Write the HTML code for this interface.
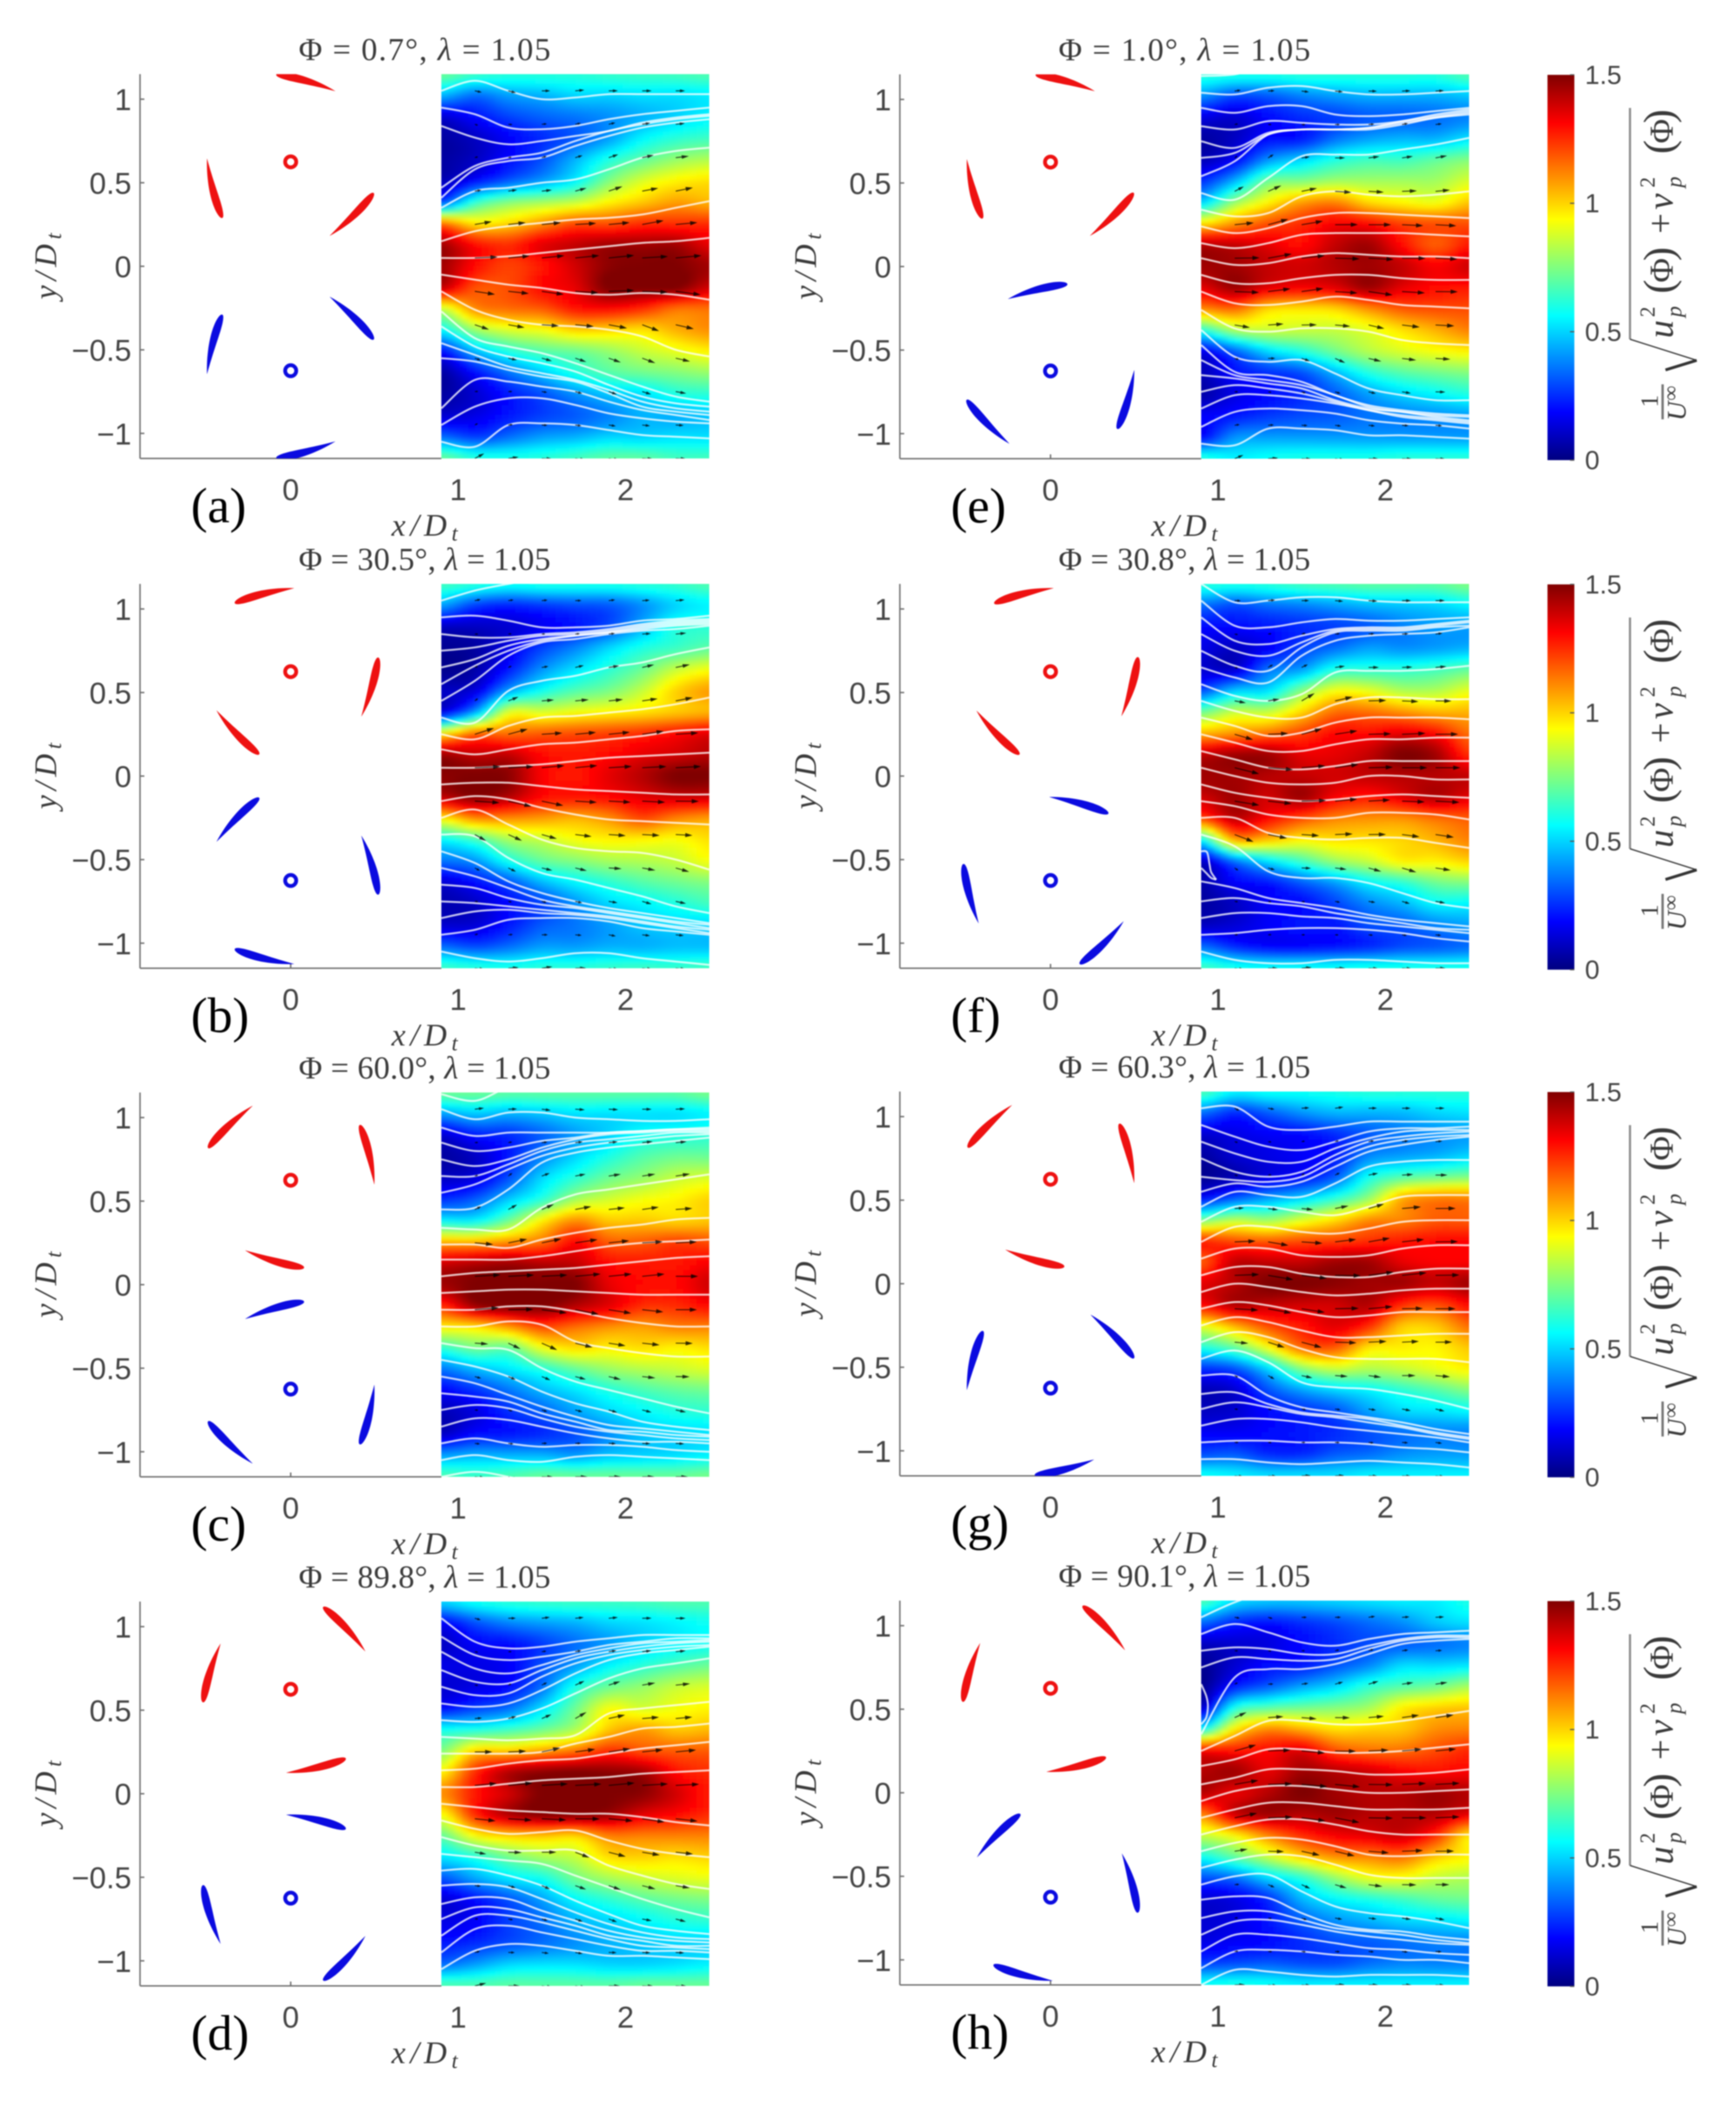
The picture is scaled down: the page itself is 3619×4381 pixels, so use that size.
<!DOCTYPE html>
<html lang="en">
<head>
<meta charset="utf-8">
<title>Phase-averaged wake velocity fields</title>
<style>
html,body{margin:0;padding:0;background:#fff}
svg{display:block;filter:blur(1.3px)}
text{font-family:"Liberation Serif",serif;fill:#3a3a3a}
.num{font-family:"Liberation Sans",sans-serif;fill:#444}
</style>
</head>
<body>
<svg id="figure" xmlns="http://www.w3.org/2000/svg" width="3619" height="4381" viewBox="0 0 3619 4381"><rect width="3619" height="4381" fill="#fff"/></svg>
<script>
// ---- values ----
const panelLetters = ['a','b','c','d','e','f','g','h'];
const phaseLabels = ['0.7','30.5','60.0','89.8','1.0','30.8','60.3','90.1'];
const phaseValues = [0.7,30.5,60.0,89.8,1.0,30.8,60.3,90.1];
const blueRotorPhase = [-98.7,-98.7,-98.7,-98.7,80,80,80,80];
const yTickValues = [1,0.5,0,-0.5,-1];
const yTickLabels = ['1','0.5','0','\u22120.5','\u22121'];
const xTickValues = [0,1,2];
const xTickLabels = ['0','1','2'];
const colorTickValues = [0,0.5,1,1.5];
const colorTickLabels = ['0','0.5','1','1.5'];
const fieldX = [0.9,1.1,1.3,1.5,1.7,1.9,2.1,2.3,2.5];
const quiverX = [1.1,1.3,1.5,1.7,1.9,2.1,2.3];
const quiverY = [1.05,0.85,0.65,0.45,0.25,0.05,-0.15,-0.35,-0.55,-0.75,-0.95,-1.15];

const heatA = [
[.72,.65,.62,.62,.62,.64,.65,.66,.68],
[.45,.35,.42,.45,.5,.5,.52,.52,.54],
[.12,.2,.28,.33,.36,.4,.45,.5,.55],
[.05,.1,.18,.25,.32,.42,.55,.62,.65],
[.05,.1,.2,.3,.45,.6,.7,.78,.82],
[.08,.2,.32,.42,.55,.75,.88,.95,.98],
[.3,.62,.75,.8,.85,.95,1.02,1.08,1.05],
[1.15,.98,1.0,1.1,1.2,1.2,1.25,1.25,1.25],
[1.45,1.3,1.25,1.35,1.4,1.45,1.45,1.45,1.35],
[1.45,1.3,1.22,1.28,1.38,1.48,1.5,1.5,1.45],
[1.4,1.2,1.2,1.3,1.35,1.5,1.5,1.5,1.38],
[.85,1.1,1.15,1.18,1.28,1.3,1.25,1.15,1.15],
[.55,.78,.88,.92,1.0,1.0,.98,1.05,1.1],
[.2,.45,.6,.68,.72,.78,.85,.9,.95],
[.05,.2,.35,.48,.6,.68,.72,.75,.78],
[.05,.12,.22,.3,.4,.48,.52,.6,.62],
[.12,.15,.22,.28,.32,.38,.45,.45,.48],
[.35,.28,.35,.42,.45,.5,.5,.52,.52],
[.72,.62,.6,.62,.66,.7,.7,.66,.66]];
const heatB = [
[.66,.62,.58,.6,.6,.6,.62,.64,.68],
[.42,.28,.24,.27,.3,.32,.4,.5,.55],
[.1,.1,.12,.17,.22,.3,.45,.6,.62],
[.03,.05,.15,.28,.38,.5,.6,.65,.7],
[.02,.06,.22,.4,.52,.62,.72,.85,.92],
[.1,.14,.42,.58,.68,.74,.85,1.0,1.08],
[.15,.42,.88,.88,.92,.95,.98,1.02,1.05],
[.95,1.15,1.15,1.18,1.2,1.22,1.25,1.3,1.35],
[1.45,1.4,1.4,1.3,1.28,1.3,1.35,1.38,1.42],
[1.48,1.5,1.48,1.32,1.28,1.35,1.42,1.5,1.5],
[1.4,1.48,1.42,1.3,1.28,1.3,1.35,1.38,1.38],
[.95,1.1,1.1,1.08,1.05,1.1,1.2,1.12,1.08],
[.55,.65,.8,.85,.92,.95,.95,.93,.98],
[.35,.4,.58,.7,.75,.8,.82,.85,.92],
[.12,.2,.3,.45,.55,.62,.68,.72,.75],
[.07,.1,.2,.28,.4,.5,.55,.6,.65],
[.12,.13,.22,.32,.36,.42,.48,.5,.5],
[.35,.3,.35,.42,.42,.45,.45,.47,.47],
[.65,.62,.6,.62,.62,.64,.65,.64,.66]];
const heatC = [
[.72,.72,.7,.7,.7,.7,.7,.7,.74],
[.42,.48,.45,.48,.52,.52,.52,.52,.55],
[.12,.22,.25,.33,.42,.5,.58,.6,.62],
[.05,.1,.22,.38,.5,.6,.68,.72,.72],
[.1,.14,.3,.5,.62,.72,.78,.85,.88],
[.25,.32,.48,.62,.8,.87,.92,.95,1.0],
[.55,.55,.72,.95,1.1,1.02,1.02,1.0,1.02],
[1.05,1.05,1.1,1.15,1.3,1.18,1.18,1.22,1.2],
[1.38,1.42,1.45,1.42,1.4,1.3,1.28,1.28,1.32],
[1.45,1.5,1.5,1.5,1.5,1.35,1.3,1.3,1.38],
[1.25,1.45,1.5,1.5,1.42,1.35,1.25,1.25,1.3],
[.95,.98,1.08,1.2,1.15,1.1,1.08,1.12,1.12],
[.62,.72,.7,.9,.98,.95,.98,.95,.98],
[.35,.45,.52,.6,.7,.78,.82,.85,.88],
[.18,.25,.35,.45,.52,.6,.66,.7,.72],
[.08,.14,.25,.32,.42,.5,.55,.6,.62],
[.1,.2,.22,.25,.3,.4,.48,.5,.52],
[.42,.45,.45,.45,.42,.48,.5,.52,.55],
[.68,.65,.68,.72,.72,.72,.72,.72,.74]];
const heatD = [
[.5,.58,.62,.64,.65,.65,.66,.68,.68],
[.18,.3,.38,.42,.45,.5,.52,.55,.58],
[.1,.18,.2,.27,.35,.42,.5,.55,.58],
[.15,.15,.18,.3,.42,.55,.62,.68,.72],
[.12,.15,.2,.35,.6,.72,.78,.85,.88],
[.2,.28,.35,.52,.72,.92,.88,.92,.95],
[.58,.6,.65,.72,.82,1.02,1.08,1.02,1.04],
[.75,1.0,1.02,1.08,1.15,1.25,1.2,1.18,1.18],
[.95,1.25,1.42,1.48,1.5,1.48,1.45,1.3,1.25],
[1.1,1.28,1.38,1.5,1.5,1.5,1.48,1.38,1.28],
[.92,1.25,1.42,1.48,1.48,1.45,1.35,1.3,1.25],
[.7,.92,1.0,1.02,1.0,1.12,1.12,1.12,1.12],
[.52,.6,.72,.8,.85,.98,1.0,.98,1.0],
[.3,.42,.52,.58,.72,.8,.85,.88,.9],
[.12,.2,.3,.42,.55,.62,.68,.72,.74],
[.15,.18,.28,.35,.45,.5,.55,.6,.62],
[.22,.25,.3,.35,.4,.45,.48,.5,.5],
[.35,.42,.5,.52,.52,.5,.5,.52,.55],
[.68,.68,.7,.7,.7,.7,.72,.72,.72]];
const heatE = [
[.62,.6,.6,.62,.62,.62,.62,.62,.68],
[.4,.3,.32,.38,.42,.45,.45,.45,.48],
[.15,.12,.2,.25,.28,.32,.33,.35,.38],
[.05,.1,.2,.22,.35,.42,.45,.45,.52],
[.08,.18,.4,.5,.6,.65,.65,.7,.75],
[.25,.45,.72,.75,.8,.8,.8,.8,.88],
[.5,.78,.95,1.08,1.12,1.0,.95,.92,1.02],
[.98,1.1,1.2,1.25,1.32,1.3,1.22,1.2,1.2],
[1.42,1.4,1.35,1.3,1.4,1.45,1.3,1.18,1.28],
[1.45,1.45,1.4,1.38,1.42,1.45,1.4,1.32,1.38],
[1.35,1.45,1.35,1.32,1.35,1.45,1.35,1.3,1.28],
[1.1,1.15,1.0,.98,1.0,1.1,1.18,1.2,1.2],
[.6,.8,.85,.85,.85,.9,.98,1.05,1.12],
[.15,.32,.5,.6,.72,.82,.88,.92,.95],
[.08,.2,.25,.3,.45,.6,.68,.72,.75],
[.06,.15,.2,.25,.32,.42,.5,.55,.6],
[.18,.22,.27,.3,.32,.36,.38,.4,.42],
[.2,.4,.42,.42,.42,.42,.42,.42,.42],
[.62,.55,.58,.6,.6,.6,.62,.62,.62]];
const heatF = [
[.62,.6,.62,.66,.68,.7,.7,.7,.75],
[.35,.3,.35,.38,.42,.46,.48,.5,.55],
[.2,.2,.22,.25,.28,.32,.38,.42,.42],
[.15,.1,.18,.28,.35,.42,.4,.42,.45],
[.12,.12,.35,.42,.6,.62,.62,.65,.7],
[.3,.48,.52,.75,.92,.9,.82,.82,.9],
[.72,.85,.85,1.0,1.15,1.15,1.1,1.05,1.05],
[1.05,1.1,1.15,1.22,1.3,1.3,1.35,1.3,1.15],
[1.4,1.45,1.45,1.35,1.35,1.4,1.5,1.45,1.25],
[1.45,1.45,1.42,1.4,1.38,1.4,1.42,1.42,1.4],
[1.38,1.45,1.38,1.45,1.32,1.28,1.35,1.42,1.35],
[1.2,1.4,1.3,1.2,1.12,1.1,1.1,1.15,1.18],
[.55,1.05,1.02,.95,.98,.98,1.0,1.05,1.12],
[.1,.35,.52,.65,.78,.85,.95,.95,1.0],
[.06,.18,.22,.32,.42,.55,.62,.72,.75],
[.05,.1,.18,.2,.28,.38,.45,.55,.55],
[.1,.13,.18,.22,.22,.3,.32,.38,.42],
[.35,.25,.2,.2,.22,.25,.3,.32,.35],
[.66,.6,.58,.58,.58,.6,.6,.6,.6]];
const heatG = [
[.68,.55,.58,.58,.6,.62,.62,.62,.62],
[.35,.25,.32,.4,.45,.45,.46,.5,.52],
[.12,.15,.18,.2,.25,.32,.37,.4,.42],
[.05,.12,.15,.18,.22,.38,.42,.45,.5],
[.03,.08,.15,.2,.32,.58,.68,.72,.75],
[.2,.32,.42,.5,.62,.78,1.05,1.12,1.12],
[.72,.82,.78,.88,.98,1.1,1.12,1.18,1.18],
[1.25,1.2,1.18,1.2,1.22,1.25,1.28,1.3,1.3],
[1.18,1.4,1.4,1.4,1.45,1.45,1.35,1.32,1.32],
[1.35,1.42,1.5,1.5,1.48,1.45,1.45,1.4,1.45],
[1.3,1.42,1.4,1.38,1.38,1.42,1.25,1.2,1.3],
[.9,1.05,1.2,1.28,1.35,1.25,1.02,1.02,1.15],
[.6,.7,.92,1.15,1.18,.98,.96,.95,1.02],
[.25,.3,.5,.75,.85,.82,.85,.9,.95],
[.08,.12,.3,.42,.5,.55,.62,.68,.75],
[.1,.12,.2,.25,.3,.42,.5,.52,.55],
[.18,.18,.2,.22,.25,.3,.35,.38,.38],
[.3,.32,.25,.25,.32,.35,.4,.42,.42],
[.58,.55,.52,.52,.52,.55,.55,.55,.55]];
const heatH = [
[.68,.52,.48,.48,.5,.52,.54,.54,.6],
[.35,.25,.22,.26,.3,.35,.4,.48,.52],
[.1,.12,.14,.2,.25,.3,.32,.35,.38],
[.03,.12,.2,.22,.3,.38,.5,.5,.52],
[.02,.22,.32,.42,.5,.62,.68,.72,.8],
[.1,.58,.68,.72,.75,.8,.95,1.0,1.02],
[.55,.95,1.1,1.05,.98,1.0,1.02,1.1,1.12],
[1.3,1.28,1.3,1.35,1.2,1.15,1.15,1.2,1.25],
[1.42,1.45,1.35,1.45,1.42,1.38,1.32,1.3,1.32],
[1.42,1.35,1.42,1.5,1.45,1.42,1.42,1.45,1.42],
[1.12,1.38,1.45,1.42,1.45,1.42,1.42,1.42,1.35],
[.85,.95,1.12,1.25,1.32,1.35,1.38,1.25,.98],
[.58,.7,.85,1.0,1.1,1.12,1.15,1.02,.95],
[.3,.35,.5,.62,.78,.9,.92,.85,.82],
[.12,.15,.25,.45,.55,.6,.65,.7,.72],
[.12,.15,.22,.32,.4,.45,.5,.52,.55],
[.15,.18,.2,.25,.3,.32,.35,.38,.38],
[.28,.3,.32,.3,.3,.35,.38,.38,.38],
[.58,.6,.58,.55,.55,.55,.55,.55,.55]];

const streamA = [
[1.05,1.11,1.05,1.0,1.01,1.03,1.03,1.03,1.03],
[.95,.91,.83,.82,.84,.88,.91,.93,.95],
[.84,.77,.73,.75,.78,.81,.86,.89,.91],
[.47,.6,.65,.68,.75,.81,.85,.88,.9],
[.41,.58,.63,.65,.72,.78,.83,.86,.88],
[.35,.45,.47,.5,.52,.58,.65,.69,.71],
[.15,.21,.24,.26,.28,.29,.31,.35,.39],
[.05,.05,.06,.08,.1,.12,.14,.15,.17],
[-.05,-.08,-.11,-.13,-.16,-.17,-.16,-.17,-.2],
[-.15,-.26,-.32,-.35,-.36,-.38,-.42,-.5,-.54],
[-.27,-.43,-.48,-.52,-.58,-.65,-.72,-.78,-.81],
[-.36,-.48,-.54,-.58,-.63,-.71,-.78,-.82,-.84],
[-.46,-.53,-.6,-.64,-.68,-.74,-.81,-.85,-.87],
[-.55,-.57,-.62,-.66,-.69,-.76,-.84,-.87,-.89],
[-.85,-.68,-.69,-.72,-.75,-.81,-.86,-.89,-.92],
[-.95,-.84,-.79,-.79,-.83,-.88,-.91,-.93,-.94],
[-1.05,-1.08,-.95,-.94,-.95,-.98,-1.01,-1.02,-1.03]];
const streamB = [
[1.05,1.11,1.15,1.18,1.2,1.2,1.2,1.2,1.2],
[.95,.96,.93,.89,.89,.9,.93,.94,.96],
[.85,.83,.83,.85,.86,.88,.91,.93,.94],
[.75,.77,.81,.84,.85,.87,.9,.92,.93],
[.65,.7,.78,.82,.84,.86,.89,.91,.92],
[.55,.66,.75,.81,.84,.86,.88,.9,.91],
[.45,.57,.72,.8,.82,.85,.87,.88,.9],
[.35,.32,.51,.57,.6,.65,.68,.73,.77],
[.25,.22,.3,.35,.36,.38,.4,.43,.47],
[.16,.13,.16,.19,.2,.22,.24,.27,.28],
[.05,.05,.06,.07,.09,.11,.12,.13,.14],
[-.05,-.04,-.04,-.06,-.08,-.09,-.1,-.11,-.11],
[-.15,-.12,-.14,-.19,-.23,-.26,-.27,-.28,-.29],
[-.25,-.2,-.29,-.38,-.43,-.45,-.46,-.5,-.56],
[-.35,-.36,-.49,-.58,-.62,-.67,-.72,-.78,-.82],
[-.45,-.52,-.63,-.7,-.75,-.79,-.82,-.85,-.88],
[-.55,-.6,-.67,-.74,-.78,-.81,-.84,-.87,-.89],
[-.65,-.67,-.73,-.77,-.79,-.82,-.85,-.88,-.91],
[-.75,-.76,-.78,-.8,-.82,-.84,-.87,-.9,-.92],
[-.85,-.81,-.8,-.82,-.83,-.85,-.88,-.91,-.94],
[-.95,-.92,-.86,-.85,-.85,-.87,-.91,-.93,-.95],
[-1.05,-1.09,-1.11,-1.09,-1.06,-1.06,-1.09,-1.11,-1.13]];
const streamC = [
[1.14,1.1,1.18,1.2,1.2,1.2,1.2,1.2,1.2],
[1.05,.99,1.03,1.03,1.0,.99,.98,.98,.99],
[.94,.89,.91,.91,.91,.91,.92,.93,.94],
[.85,.8,.82,.86,.88,.91,.92,.93,.93],
[.75,.71,.75,.82,.87,.9,.91,.92,.92],
[.65,.65,.72,.8,.85,.87,.89,.91,.91],
[.55,.6,.69,.77,.82,.85,.87,.89,.9],
[.45,.46,.57,.73,.79,.82,.84,.86,.88],
[.34,.33,.33,.46,.54,.57,.6,.63,.66],
[.24,.24,.22,.27,.31,.34,.36,.39,.4],
[.15,.15,.15,.17,.2,.23,.25,.26,.27],
[.05,.07,.08,.09,.1,.12,.14,.16,.17],
[-.05,-.04,-.03,-.03,-.04,-.05,-.06,-.06,-.06],
[-.15,-.15,-.13,-.13,-.16,-.2,-.23,-.25,-.25],
[-.25,-.25,-.22,-.24,-.34,-.38,-.41,-.43,-.43],
[-.35,-.38,-.39,-.5,-.58,-.63,-.68,-.73,-.77],
[-.45,-.49,-.55,-.64,-.71,-.76,-.82,-.85,-.87],
[-.55,-.59,-.66,-.73,-.79,-.84,-.86,-.88,-.9],
[-.65,-.67,-.7,-.77,-.82,-.87,-.88,-.9,-.91],
[-.75,-.72,-.74,-.8,-.85,-.88,-.9,-.92,-.93],
[-.85,-.8,-.81,-.85,-.89,-.92,-.94,-.94,-.95],
[-.95,-.92,-.95,-.97,-.96,-.96,-.97,-.99,-1.0],
[-1.05,-1.02,-1.05,-1.06,-1.03,-1.02,-1.03,-1.04,-1.05],
[-1.15,-1.12,-1.15,-1.2,-1.2,-1.2,-1.2,-1.2,-1.2]];
const streamD = [
[1.05,.91,.87,.88,.91,.93,.95,.95,.95],
[.94,.83,.8,.82,.85,.89,.91,.93,.93],
[.85,.75,.72,.77,.83,.87,.9,.91,.92],
[.74,.67,.66,.74,.81,.85,.88,.9,.91],
[.64,.59,.6,.7,.78,.83,.86,.88,.89],
[.54,.52,.54,.62,.72,.8,.84,.86,.88],
[.44,.43,.45,.51,.6,.69,.75,.78,.81],
[.34,.33,.32,.33,.35,.48,.51,.53,.55],
[.24,.24,.24,.25,.3,.34,.39,.4,.42],
[.14,.15,.18,.2,.21,.24,.27,.29,.31],
[.04,.04,.06,.08,.09,.1,.12,.13,.14],
[-.06,-.08,-.1,-.11,-.12,-.12,-.14,-.17,-.19],
[-.16,-.21,-.24,-.23,-.22,-.28,-.33,-.36,-.38],
[-.26,-.31,-.34,-.34,-.34,-.43,-.49,-.54,-.57],
[-.36,-.38,-.4,-.42,-.49,-.56,-.63,-.69,-.74],
[-.46,-.45,-.49,-.55,-.64,-.72,-.79,-.82,-.84],
[-.55,-.54,-.56,-.63,-.71,-.78,-.83,-.86,-.87],
[-.66,-.62,-.63,-.7,-.76,-.82,-.86,-.88,-.89],
[-.75,-.68,-.69,-.74,-.79,-.85,-.88,-.91,-.91],
[-.85,-.73,-.73,-.77,-.82,-.87,-.91,-.92,-.93],
[-.95,-.81,-.79,-.83,-.87,-.91,-.94,-.94,-.95],
[-1.05,-.94,-.9,-.91,-.94,-.97,-.97,-.98,-.99]];
const streamE = [
[1.14,1.15,1.2,1.2,1.2,1.2,1.2,1.2,1.2],
[1.04,1.03,1.07,1.08,1.05,1.03,1.03,1.04,1.05],
[.95,.92,.96,.96,.91,.9,.91,.93,.95],
[.84,.82,.87,.86,.85,.85,.87,.91,.94],
[.75,.71,.8,.82,.82,.83,.87,.9,.93],
[.65,.68,.79,.82,.82,.83,.86,.89,.92],
[.54,.63,.79,.82,.82,.82,.85,.89,.91],
[.44,.4,.53,.66,.67,.67,.7,.73,.77],
[.34,.3,.32,.42,.45,.43,.42,.43,.45],
[.24,.2,.23,.29,.32,.32,.31,.3,.29],
[.14,.11,.14,.19,.2,.2,.2,.19,.18],
[.05,.01,.02,.06,.08,.07,.06,.06,.05],
[-.05,-.1,-.1,-.07,-.05,-.05,-.07,-.08,-.08],
[-.15,-.22,-.23,-.21,-.18,-.2,-.23,-.24,-.25],
[-.26,-.37,-.39,-.37,-.37,-.39,-.44,-.46,-.47],
[-.38,-.54,-.57,-.56,-.64,-.73,-.77,-.8,-.8],
[-.47,-.63,-.65,-.69,-.77,-.83,-.86,-.88,-.89],
[-.56,-.65,-.68,-.71,-.77,-.84,-.87,-.89,-.9],
[-.65,-.67,-.7,-.73,-.8,-.85,-.87,-.9,-.92],
[-.75,-.71,-.73,-.76,-.81,-.86,-.89,-.91,-.93],
[-.85,-.77,-.77,-.79,-.82,-.86,-.9,-.92,-.94],
[-.96,-.87,-.85,-.86,-.88,-.92,-.94,-.95,-.97],
[-1.06,-1.07,-.97,-.97,-.98,-1.01,-1.01,-1.02,-1.03]];
const streamF = [
[1.15,1.04,1.05,1.07,1.07,1.05,1.04,1.04,1.04],
[1.05,.9,.89,.92,.94,.93,.93,.94,.95],
[.95,.81,.79,.84,.88,.89,.89,.91,.93],
[.85,.75,.72,.8,.87,.88,.88,.9,.92],
[.75,.66,.63,.77,.86,.87,.87,.89,.9],
[.65,.59,.56,.72,.81,.84,.85,.86,.89],
[.55,.48,.45,.49,.62,.63,.63,.64,.66],
[.45,.39,.35,.35,.43,.47,.47,.46,.46],
[.35,.3,.24,.26,.32,.35,.35,.35,.34],
[.25,.2,.15,.15,.19,.22,.22,.23,.23],
[.15,.1,.05,.04,.06,.09,.09,.09,.09],
[.05,0,-.04,-.05,-.04,0,0,-.02,-.02],
[-.05,-.1,-.13,-.15,-.14,-.12,-.11,-.12,-.13],
[-.15,-.18,-.23,-.25,-.25,-.22,-.22,-.23,-.26],
[-.25,-.25,-.34,-.37,-.38,-.37,-.37,-.4,-.43],
[-.35,-.42,-.57,-.61,-.61,-.64,-.7,-.76,-.79],
[-.63,-.67,-.73,-.76,-.79,-.83,-.86,-.88,-.9],
[-.75,-.73,-.76,-.78,-.82,-.85,-.88,-.91,-.92],
[-.85,-.82,-.82,-.84,-.85,-.88,-.9,-.92,-.94],
[-.95,-.94,-.92,-.91,-.91,-.92,-.94,-.97,-.99],
[-1.05,-1.1,-1.12,-1.12,-1.1,-1.1,-1.11,-1.12,-1.12]];
const streamG = [
[1.05,1.06,.94,.92,.94,.97,.97,.97,.97],
[.95,.88,.82,.8,.85,.91,.93,.93,.94],
[.85,.78,.73,.73,.81,.87,.91,.92,.92],
[.75,.67,.64,.67,.77,.85,.88,.9,.91],
[.64,.62,.61,.64,.74,.82,.86,.88,.89],
[.55,.6,.58,.61,.7,.79,.83,.86,.88],
[.46,.55,.53,.52,.6,.7,.73,.74,.74],
[.37,.46,.46,.43,.41,.46,.52,.53,.53],
[.25,.34,.34,.31,.3,.33,.37,.38,.38],
[.15,.21,.21,.17,.16,.17,.21,.23,.23],
[.05,.1,.1,.06,.04,.04,.07,.09,.09],
[-.05,0,-.02,-.05,-.07,-.06,-.04,-.03,-.03],
[-.15,-.11,-.13,-.17,-.2,-.19,-.17,-.17,-.17],
[-.25,-.2,-.23,-.28,-.32,-.32,-.31,-.3,-.3],
[-.35,-.29,-.32,-.39,-.44,-.45,-.45,-.45,-.47],
[-.45,-.4,-.47,-.59,-.62,-.63,-.66,-.7,-.75],
[-.55,-.55,-.67,-.74,-.77,-.8,-.83,-.87,-.9],
[-.66,-.65,-.72,-.77,-.79,-.81,-.85,-.89,-.92],
[-.75,-.71,-.74,-.78,-.8,-.83,-.86,-.9,-.93],
[-.85,-.81,-.81,-.83,-.86,-.88,-.9,-.92,-.95],
[-.95,-.94,-.94,-.95,-.95,-.96,-.98,-.99,-1.01],
[-1.05,-1.05,-1.07,-1.08,-1.07,-1.06,-1.07,-1.08,-1.1]];
const streamH = [
[1.05,1.14,1.2,1.2,1.2,1.2,1.2,1.2,1.2],
[.95,1.01,.96,.9,.88,.92,.95,.96,.97],
[.85,.87,.86,.83,.83,.88,.92,.94,.94],
[.75,.81,.8,.79,.8,.86,.91,.93,.93],
[.35,.69,.74,.74,.77,.83,.89,.91,.92],
[.25,.34,.43,.43,.41,.41,.43,.46,.49],
[.16,.2,.26,.26,.24,.24,.25,.27,.29],
[.05,.09,.14,.14,.13,.11,.11,.12,.14],
[-.05,.01,.04,.04,.02,0,0,.01,.02],
[-.15,-.1,-.06,-.06,-.08,-.1,-.1,-.1,-.09],
[-.25,-.2,-.16,-.16,-.19,-.23,-.25,-.25,-.25],
[-.35,-.3,-.27,-.28,-.32,-.37,-.38,-.37,-.37],
[-.45,-.4,-.37,-.38,-.43,-.49,-.51,-.51,-.51],
[-.55,-.5,-.49,-.59,-.68,-.72,-.74,-.77,-.81],
[-.64,-.62,-.63,-.72,-.79,-.82,-.83,-.86,-.88],
[-.75,-.71,-.71,-.76,-.81,-.83,-.85,-.88,-.9],
[-.85,-.77,-.76,-.79,-.83,-.86,-.88,-.9,-.91],
[-.95,-.85,-.85,-.87,-.9,-.93,-.94,-.96,-.97],
[-1.05,-.95,-.94,-.95,-.97,-.98,-1.0,-1.0,-1.02],
[-1.15,-1.06,-1.07,-1.09,-1.1,-1.09,-1.09,-1.09,-1.1]];
// short recirculation traces near the rotor-side edge: x values then y values
const eddyFx = [.9,.935,.95,.96,.99];
const eddyFy = [-.45,-.456,-.53,-.576,-.62];
const eddyF2x = [.9,.93,.96,.99];
const eddyF2y = [-.55,-.58,-.61,-.62];
const eddyHx = [.9,.93,.94,.93,.9];
const eddyHy = [.65,.58,.52,.45,.41];

const heatFields = [heatA,heatB,heatC,heatD,heatE,heatF,heatG,heatH];
const streamFields = [streamA,streamB,streamC,streamD,streamE,streamF,streamG,streamH];
const eddyFields = [[],[],[],[],[],[[eddyFx,eddyFy],[eddyF2x,eddyF2y]],[],[[eddyHx,eddyHy]]];

// ---- layout ----
const NS = 'http://www.w3.org/2000/svg';
const svg = document.getElementById('figure');
const plotTops = [154.5,1217,2277,3338,155,1217,2275,3336];
const colZero = [606,2190];
const UNIT_X = 349, PLOT_H = 801, Y_SPAN = 2.3;
const UNIT_Y = PLOT_H / Y_SPAN;
const X_MIN = -0.9, X_FIELD0 = 0.9, X_MAX = 2.5, Y_MAX = 1.15;
const ROTOR_Y = 0.625, LEAD_R = 0.53, TRAIL_R = 0.5, CHORD_SWEEP = 41.5;

function make(tag, attrs, parent) {
  const e = document.createElementNS(NS, tag);
  for (const k in attrs) e.setAttribute(k, attrs[k]);
  parent.appendChild(e);
  return e;
}
function jet(v) {
  const t = Math.max(0, Math.min(1, v / 1.5));
  const ch = c => Math.round(255 * Math.max(0, Math.min(1, 1.5 - Math.abs(4 * t - c))));
  return 'rgb(' + ch(3) + ',' + ch(2) + ',' + ch(1) + ')';
}
function cubic(a, b, c, d, s) {
  return b + 0.5 * s * (c - a + s * (2 * a - 5 * b + 4 * c - d + s * (3 * (b - c) + d - a)));
}
function heatAt(grid, x, y) {
  const nr = grid.length, nc = grid[0].length;
  const fu = Math.max(0, Math.min(nc - 1.0001, (x - fieldX[0]) / (fieldX[1] - fieldX[0])));
  const fv = Math.max(0, Math.min(nr - 1.0001, (Y_MAX - y) / (Y_SPAN / (nr - 1))));
  const iu = Math.floor(fu), iv = Math.floor(fv), su = fu - iu, sv = fv - iv;
  const rowsOut = [];
  for (let r = iv - 1; r <= iv + 2; r++) {
    const row = grid[Math.max(0, Math.min(nr - 1, r))];
    const g = k => row[Math.max(0, Math.min(nc - 1, k))];
    rowsOut.push(cubic(g(iu - 1), g(iu), g(iu + 1), g(iu + 2), su));
  }
  return cubic(rowsOut[0], rowsOut[1], rowsOut[2], rowsOut[3], sv);
}
function lineY(line, x) {
  const f = Math.max(0, Math.min(line.length - 1.0001, (x - fieldX[0]) / (fieldX[1] - fieldX[0])));
  const i = Math.floor(f);
  return line[i] + (line[i + 1] - line[i]) * (f - i);
}
function smoothPath(pts) {
  let d = 'M' + pts[0][0].toFixed(1) + ' ' + pts[0][1].toFixed(1);
  for (let i = 0; i < pts.length - 1; i++) {
    const a = pts[Math.max(0, i - 1)], b = pts[i], c = pts[i + 1], e = pts[Math.min(pts.length - 1, i + 2)];
    d += 'C' + (b[0] + (c[0] - a[0]) / 6).toFixed(1) + ' ' + (b[1] + (c[1] - a[1]) / 6).toFixed(1) + ' ' +
         (c[0] - (e[0] - b[0]) / 6).toFixed(1) + ' ' + (c[1] - (e[1] - b[1]) / 6).toFixed(1) + ' ' +
         c[0].toFixed(1) + ' ' + c[1].toFixed(1);
  }
  return d;
}

// shared defs
const defs = make('defs', {}, svg);
const soft = make('filter', {id:'soft', x:'-5%', y:'-5%', width:'110%', height:'110%'}, defs);
make('feGaussianBlur', {stdDeviation:'5 4'}, soft);
const grad = make('linearGradient', {id:'jetGrad', x1:'0', y1:'1', x2:'0', y2:'0'}, defs);
for (let i = 0; i <= 64; i++) {
  make('stop', {offset: i / 64, 'stop-color': jet(1.5 * i / 64)}, grad);
}

panelLetters.forEach((letter, p) => {
  const col = p < 4 ? 0 : 1;
  const top = plotTops[p];
  const x0 = colZero[col];
  const yMid = top + PLOT_H / 2;
  const xS = x => x0 + x * UNIT_X;
  const yS = y => yMid - y * UNIT_Y;
  const panel = make('g', {}, svg);
  
  

  const clip = make('clipPath', {id:'field-clip-' + letter}, defs);
  make('rect', {x: xS(X_FIELD0), y: top, width: (X_MAX - X_FIELD0) * UNIT_X, height: PLOT_H}, clip);
  const clipAll = make('clipPath', {id:'axes-clip-' + letter}, defs);
  make('rect', {x: xS(X_MIN), y: top, width: (X_MAX - X_MIN) * UNIT_X, height: PLOT_H}, clipAll);

  // axes
  const leftSpine = make('line', {x1: xS(X_MIN), x2: xS(X_MIN), y1: top, y2: top + PLOT_H, stroke:'#707070', 'stroke-width':3}, panel);
  
  
  const bottomSpine = make('line', {x1: xS(X_MIN), x2: xS(X_FIELD0), y1: top + PLOT_H, y2: top + PLOT_H, stroke:'#707070', 'stroke-width':3}, panel);
  
  

  yTickValues.forEach((v, i) => {
    const tick = make('line', {x1: xS(X_MIN), x2: xS(X_MIN) + 9, y1: yS(v), y2: yS(v), stroke:'#707070', 'stroke-width':3}, panel);
    
    
    const lab = make('text', {x: xS(X_MIN) - 18, y: yS(v) + 23, 'text-anchor':'end', 'font-size':63, class:'num'}, panel);
    lab.textContent = yTickLabels[i];
    
    
  });
  xTickValues.forEach((v, i) => {
    const tick = make('line', {x1: xS(v), x2: xS(v), y1: top + PLOT_H, y2: top + PLOT_H - 9, stroke:'#707070', 'stroke-width':3}, panel);
    
    
    const lab = make('text', {x: xS(v), y: top + 888, 'text-anchor':'middle', 'font-size':63, class:'num'}, panel);
    lab.textContent = xTickLabels[i];
    
    
  });

  // title
  const cx = xS((X_MIN + X_MAX) / 2);
  const title = make('text', {x: cx, y: top - 29, 'text-anchor':'middle', 'font-size':67, textLength:525, lengthAdjust:'spacing'}, panel);
  
  
  title.appendChild(document.createTextNode('\u03A6 = ' + phaseLabels[p] + '\u00B0, '));
  const lam = make('tspan', {'font-style':'italic'}, title);
  lam.textContent = '\u03BB';
  title.appendChild(document.createTextNode(' = 1.05'));

  // x label
  const xl = make('text', {x: cx, y: top + 962, 'text-anchor':'middle', 'font-size':66, 'font-style':'italic', textLength:138, lengthAdjust:'spacing'}, panel);
  
  
  xl.appendChild(document.createTextNode('x/D'));
  const xs = make('tspan', {'font-size':46, dy:10}, xl);
  xs.textContent = 't';

  // y label
  const yx = xS(X_MIN) - 175, yy = yMid;
  const yl = make('text', {x: yx, y: yy, 'text-anchor':'middle', 'font-size':66, 'font-style':'italic', textLength:138, lengthAdjust:'spacing', transform:'rotate(-90 ' + yx + ' ' + yy + ')'}, panel);
  
  
  yl.appendChild(document.createTextNode('y/D'));
  const ys = make('tspan', {'font-size':46, dy:10}, yl);
  ys.textContent = 't';

  // panel letter
  const pl = make('text', {x: xS(0) - 208, y: top + 934, 'font-size':104}, panel);
  pl.textContent = '(' + letter + ')';
  pl.style.fill = '#000';
  
  

  // turbine rotors and blades
  const rotors = make('g', {'clip-path':'url(#axes-clip-' + letter + ')'}, panel);
  
  
  [{c: ROTOR_Y, color:'#ee1111', lead: 98.7 + phaseValues[p], sweep: -CHORD_SWEEP, n:'red'},
   {c: -ROTOR_Y, color:'#0b0be0', lead: blueRotorPhase[p] - phaseValues[p], sweep: CHORD_SWEEP, n:'blue'}].forEach(r => {
    const hub = make('circle', {cx: xS(0), cy: yS(r.c), r: 11.5, fill:'none', stroke: r.color, 'stroke-width':8}, rotors);
    
    
    for (let b = 0; b < 3; b++) {
      const aL = (r.lead + 120 * b) * Math.PI / 180;
      const aT = (r.lead + 120 * b + r.sweep) * Math.PI / 180;
      const lx = LEAD_R * Math.cos(aL), ly = r.c + LEAD_R * Math.sin(aL);
      const tx = TRAIL_R * Math.cos(aT), ty = r.c + TRAIL_R * Math.sin(aT);
      const dx = tx - lx, dy = ty - ly, c = Math.hypot(dx, dy);
      let nx = -dy / c, ny = dx / c;
      const mx = (lx + tx) / 2, my = (ly + ty) / 2 - r.c;
      if (nx * mx + ny * my < 0) { nx = -nx; ny = -ny; }
      const upper = [], lower = [];
      for (let k = 0; k <= 24; k++) {
        const s = Math.pow(k / 24, 1.6);
        const half = 5 * 0.13 * c * (0.2969 * Math.sqrt(s) - 0.126 * s - 0.3516 * s * s + 0.2843 * s * s * s - 0.1015 * s * s * s * s);
        const camber = 0.012 * 4 * s * (1 - s);
        const bx = lx + dx * s + nx * camber, by = ly + dy * s + ny * camber;
        upper.push(xS(bx + nx * half).toFixed(1) + ' ' + yS(by + ny * half).toFixed(1));
        lower.unshift(xS(bx - nx * half).toFixed(1) + ' ' + yS(by - ny * half).toFixed(1));
      }
      const blade = make('path', {d: 'M' + upper.concat(lower).join('L') + 'Z', fill: r.color}, rotors);
      
      
    }
  });

  // heat field
  const grid = heatFields[p];
  const fieldClip = make('g', {'clip-path':'url(#field-clip-' + letter + ')'}, panel);
  
  
  const cells = make('g', {filter:'url(#soft)', 'shape-rendering':'crispEdges'}, fieldClip);
  const stepX = 14, stepY = 10;
  const left = xS(X_FIELD0), right = xS(X_MAX);
  for (let py = top - 20; py < top + PLOT_H + 20; py += stepY) {
    for (let px = left - 28; px < right + 28; px += stepX) {
      const v = heatAt(grid, (px + stepX / 2 - x0) / UNIT_X, (yMid - py - stepY / 2) / UNIT_Y);
      const cell = make('rect', {x: px, y: py, width: stepX + 0.5, height: stepY + 0.5, fill: jet(v)}, cells);
      
      
    }
  }

  // streamlines
  const lines = streamFields[p];
  const streamGroup = make('g', {fill:'none', stroke:'#fff', 'stroke-width':4, 'stroke-opacity':0.78, 'clip-path':'url(#field-clip-' + letter + ')'}, panel);
  
  
  lines.forEach(line => {
    const pts = line.map((y, i) => [xS(fieldX[i]), yS(y)]);
    const path = make('path', {d: smoothPath(pts)}, streamGroup);
    
    
  });
  eddyFields[p].forEach(trace => {
    const pts = trace[0].map((x, i) => [xS(x), yS(trace[1][i])]);
    const path = make('path', {d: smoothPath(pts)}, streamGroup);
    
    
  });

  // quiver arrows: length follows the local field value, direction the nearest streamline
  const arrows = make('g', {fill:'#000', opacity:0.82, 'clip-path':'url(#field-clip-' + letter + ')'}, panel);
  
  
  quiverY.forEach(qy => {
    quiverX.forEach(qx => {
      const v = heatAt(grid, qx, qy);
      let best = null, bestD = 1e9;
      lines.forEach(line => {
        const dd = Math.abs(lineY(line, qx + 0.05) - qy);
        if (dd < bestD) { bestD = dd; best = line; }
      });
      const slope = (lineY(best, qx + 0.12) - lineY(best, qx - 0.02)) / 0.14;
      const ang = -Math.atan(slope);
      const len = Math.max(7, 36 * v);
      const tx = xS(qx), ty = yS(qy);
      const ca = Math.cos(ang), sa = Math.sin(ang);
      const at = (u, w) => (tx + u * ca - w * sa).toFixed(1) + ' ' + (ty + u * sa + w * ca).toFixed(1);
      const headL = Math.min(15, len * 0.55), headW = Math.min(4.5, 1.5 + len * 0.08);
      const d = 'M' + at(0, -0.9) + 'L' + at(len - headL, -0.9) + 'L' + at(len - headL, -headW) + 'L' + at(len, 0) +
                'L' + at(len - headL, headW) + 'L' + at(len - headL, 0.9) + 'L' + at(0, 0.9) + 'Z';
      const arrow = make('path', {d: d}, arrows);
      
      
    });
  });
});

// colorbars, one per row beside the right-hand column
const colorbarTops = [156,1218,2276,3337];
const CB_X = 3226, CB_W = 56, CB_H = 803, CB_MAX = 1.5;
colorbarTops.forEach(cTop => {
  const bar = make('g', {}, svg);
  
  
  const scale = v => cTop + CB_H - v / CB_MAX * CB_H;
  const r = make('rect', {x: CB_X, y: cTop, width: CB_W, height: CB_H, fill:'url(#jetGrad)'}, bar);
  
  
  colorTickValues.forEach((v, i) => {
    const tick = make('line', {x1: CB_X + CB_W - 9, x2: CB_X + CB_W, y1: scale(v), y2: scale(v), stroke:'#555', 'stroke-width':2.5}, bar);
    
    
    const lab = make('text', {x: 3304, y: scale(v) + 19, 'font-size':55, class:'num'}, bar);
    lab.textContent = colorTickLabels[i];
    
    
  });

  // colorbar title: (1/U_inf) sqrt(u_p^2(Phi) + v_p^2(Phi))
  const oy = cTop + 551, bx = 3487;
  const label = make('g', {transform:'translate(' + bx + ' ' + oy + ') rotate(-90)'}, bar);
  
  
  const glyph = (txt, x, y, size, italic) => {
    const t = make('text', {x: x, y: y, 'font-size': size, 'font-style': italic ? 'italic' : 'normal'}, label);
    t.textContent = txt;
    
    
    return t;
  };
  glyph('u', 2, 0, 76, true);
  glyph('p', 46, 18, 46, true);
  glyph('2', 46, -38, 44, false);
  glyph('(', 95, 0, 88, false);
  glyph('\u03A6', 118, 0, 70, false);
  glyph(')', 163, 0, 88, false);
  glyph('+', 220, 0, 76, false);
  glyph('v', 270, 0, 76, true);
  glyph('p', 316, 18, 46, true);
  glyph('2', 316, -38, 44, false);
  glyph('(', 386, 0, 88, false);
  glyph('\u03A6', 408, 0, 70, false);
  glyph(')', 450, 0, 88, false);
  glyph('1', -142, -31, 52, false);
  glyph('U', -170, 27, 56, true);
  glyph('\u221E', -128, 10, 44, false);

  const vinc = make('line', {x1: 3398, x2: 3398, y1: oy - 482, y2: oy, stroke:'#8c8c8c', 'stroke-width':4.5}, bar);
  
  
  const rad = make('polyline', {points:[3398, oy, 3537, oy + 44].join(' '), fill:'none', stroke:'#333', 'stroke-width':2.5}, bar);
  
  
  const rad2 = make('polyline', {points:[3537, oy + 44, 3472, oy + 64].join(' '), fill:'none', stroke:'#333', 'stroke-width':6}, bar);
  
  
  const frac = make('line', {x1: 3466, x2: 3466, y1: oy + 94, y2: oy + 167, stroke:'#777', 'stroke-width':5}, bar);
  
  
});
</script>
</body>
</html>
